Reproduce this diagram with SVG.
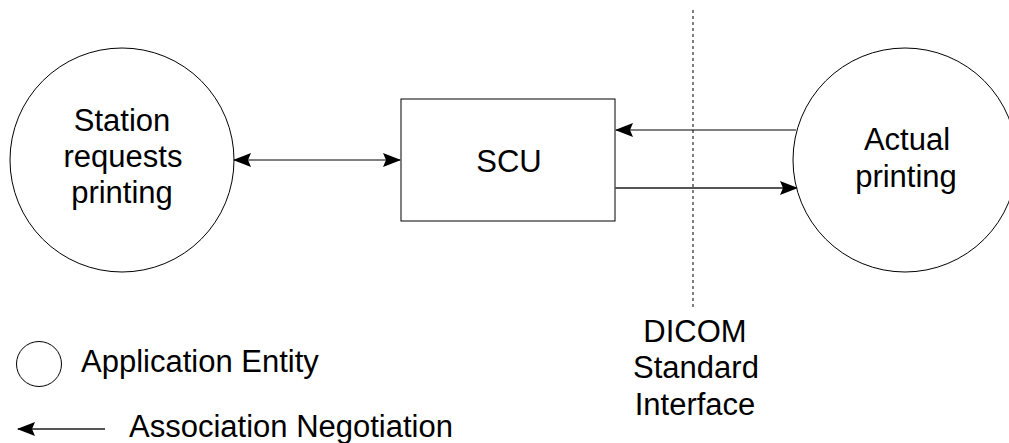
<svg xmlns="http://www.w3.org/2000/svg" width="1009" height="443" viewBox="0 0 1009 443">
<style>
.ln{stroke:#000;stroke-width:1;fill:none}
.gl{stroke:#555;stroke-width:2;fill:none}
.nd{stroke:#000;stroke-width:1;fill:#fff}
.t{font-family:"Liberation Sans",Arial,sans-serif;font-size:31px;fill:#000;text-anchor:middle}
.tl{font-family:"Liberation Sans",Arial,sans-serif;font-size:31px;fill:#000}
</style>
<defs>
<marker id="ah" markerUnits="userSpaceOnUse" markerWidth="18" markerHeight="14" viewBox="0 0 18 14" refX="17" refY="7" orient="auto-start-reverse">
<path d="M0,0 L18,7 L0,14 L3,7 z" fill="#000"/>
</marker>
</defs>
<rect width="1009" height="443" fill="#fff"/>
<g id="interface">
<line x1="693" y1="10" x2="693" y2="308" stroke="#000" stroke-width="1" stroke-dasharray="3,3"/>
</g>
<g id="station">
<circle cx="122" cy="160" r="112" class="nd"/>
<text class="t" x="122" y="131">Station</text>
<text class="t" x="123" y="167">requests</text>
<text class="t" x="122" y="203">printing</text>
</g>
<g id="scu">
<rect x="401" y="99" width="214" height="122" class="nd"/>
<text class="t" x="509" y="172">SCU</text>
</g>
<g id="actual">
<circle cx="905" cy="160" r="112" class="nd"/>
<text class="t" x="907" y="150">Actual</text>
<text class="t" x="906" y="187">printing</text>
</g>
<g id="connectors">
<line x1="234" y1="160" x2="400" y2="160" class="ln" marker-start="url(#ah)" marker-end="url(#ah)"/>
<line x1="796" y1="130" x2="616" y2="130" class="ln" marker-end="url(#ah)"/>
<line x1="615" y1="188" x2="797" y2="188" class="gl" marker-end="url(#ah)"/>
</g>
<g id="dicom-label">
<text class="t" x="695" y="342">DICOM</text>
<text class="t" x="696" y="378">Standard</text>
<text class="t" x="695" y="415">Interface</text>
</g>
<g id="legend">
<circle cx="39" cy="364" r="22.5" class="nd"/>
<text class="tl" x="81" y="372">Application Entity</text>
<line x1="105" y1="429" x2="18" y2="429" class="gl" marker-end="url(#ah)"/>
<text class="tl" x="129" y="437">Association Negotiation</text>
</g>
</svg>
